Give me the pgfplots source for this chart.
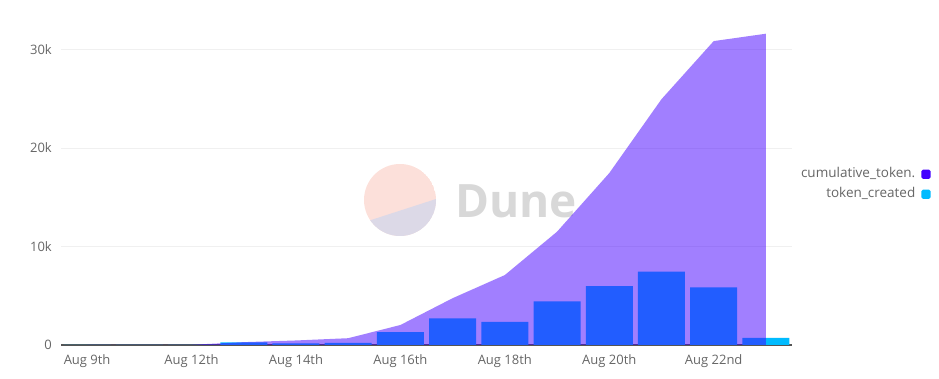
\documentclass[border=0pt]{standalone}
\usepackage{fontspec}
\setmainfont{Open Sans}
\usepackage{pgfplots}
\pgfplotsset{compat=1.18}
\definecolor{cumcol}{HTML}{4400FF}
\definecolor{tokcol}{HTML}{00BBFF}
\definecolor{lblgray}{HTML}{666666}
\definecolor{gridgray}{HTML}{F0F0F0}
\definecolor{axgray}{HTML}{555555}
\definecolor{dunepink}{HTML}{FCE0DA}
\definecolor{dunelav}{HTML}{DCD9E7}
\definecolor{dunetext}{HTML}{D8D8D8}
\begin{document}
\begin{tikzpicture}[x=1pt,y=1pt]
\useasboundingbox (0,0) rectangle (939,379);
% watermark
\begin{scope}
\clip (400,179) circle (36);
\fill[dunepink] (400,179) circle (36);
\fill[dunelav] (355,153.8) -- (445,182.9) -- (445,130) -- (355,130) -- cycle;
\end{scope}
\node[anchor=base west, inner sep=0pt, text=dunetext, font=\fontsize{46}{46}\selectfont\bfseries] at (455,161) {Dune};
\begin{axis}[
  at={(61pt,34pt)}, anchor=south west,
  scale only axis, width=731pt, height=330pt,
  xmin=-0.5, xmax=13.5, ymin=0, ymax=33500,
  axis lines=left, axis line style={-},
  y axis line style={draw=none},
  x axis line style={draw=axgray, line width=1.1pt},
  major tick length=0pt,
  xtick={0,2,4,6,8,10,12},
  xticklabels={Aug 9th, Aug 12th, Aug 14th, Aug 16th, Aug 18th, Aug 20th, Aug 22nd},
  ytick={0,10000,20000,30000},
  yticklabels={0,10k,20k,30k},
  scaled y ticks=false,
  ymajorgrids, grid style={gridgray, line width=0.8pt},
  /pgf/number format/assume math mode=true,
  tick label style={font=\fontsize{13}{15}\selectfont, text=lblgray, inner sep=0pt},
  xticklabel style={anchor=north, yshift=-9pt},
  yticklabel style={anchor=east, xshift=-9pt},
  legend style={draw=none, fill=none, inner sep=0pt, at={(1.19,0.487)}, anchor=east,
    font=\fontsize{13.5}{15}\selectfont, text=lblgray,
    nodes={text height=9.5pt, text depth=3pt, inner sep=0pt},
    row sep=7.5pt, column sep=6pt},
  legend cell align=right,
  legend plot pos=right,
  legend image code/.code={\fill[#1, draw=none, rounded corners=1.8pt] (0pt,-4.7pt) rectangle (9.4pt,4.7pt);},
]
\addplot[ybar, bar width=0.9, fill=tokcol, draw=none, forget plot] coordinates {
  (0,0) (1,0) (2,20) (3,270) (4,170) (5,220) (6,1310) (7,2700) (8,2340)
  (9,4420) (10,5980) (11,7450) (12,5840) (13,720)
};
\addplot[fill=cumcol, fill opacity=0.5, draw=none, forget plot] coordinates {
  (0,0) (1,0) (2,20) (3,290) (4,460) (5,690) (6,2030) (7,4750) (8,7100)
  (9,11500) (10,17450) (11,24950) (12,30850) (13,31600)
} \closedcycle;
\addlegendimage{fill=cumcol, draw=none}
\addlegendentry{cumulative\_token.}
\addlegendimage{fill=tokcol, draw=none}
\addlegendentry{token\_created}
\end{axis}
\end{tikzpicture}
\end{document}
